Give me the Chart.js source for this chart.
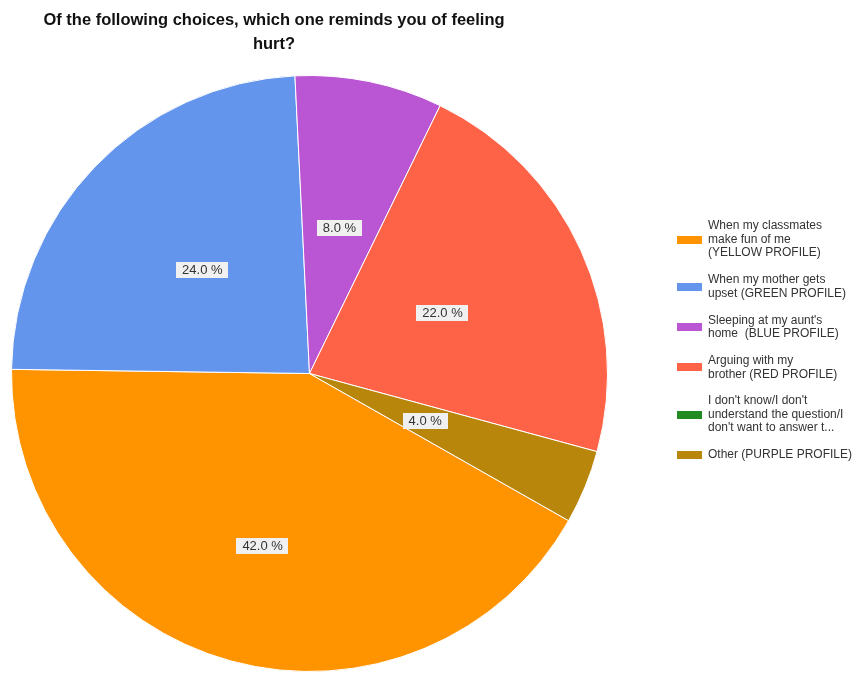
<!DOCTYPE html>
<html>
<head>
<meta charset="utf-8">
<script src="https://cdn.jsdelivr.net/npm/chart.js@4.4.0/dist/chart.umd.min.js"></script>
<style>
  html, body { margin: 0; padding: 0; background: #fff; overflow: hidden; }
  #wrap { position: relative; width: 867px; height: 675px; }
</style>
</head>
<body>
<div id="wrap"><canvas id="pie"></canvas></div>
<script>
const titleLines = ['Of the following choices, which one reminds you of feeling', 'hurt?'];

// legend text, already wrapped the way it is shown
const categories = [
  ['When my classmates', 'make fun of me', '(YELLOW PROFILE)'],
  ['When my mother gets', 'upset (GREEN PROFILE)'],
  ['Sleeping at my aunt\'s', 'home  (BLUE PROFILE)'],
  ['Arguing with my', 'brother (RED PROFILE)'],
  ['I don\'t know/I don\'t', 'understand the question/I', 'don\'t want to answer t...'],
  ['Other (PURPLE PROFILE)']
];
const shares = [42, 24, 8, 22, 0, 4];
const sliceColors = ['#FF9400', '#6495ED', '#BA55D3', '#FF6347', '#228B22', '#B8860B'];

// how far out (fraction of the radius) each percentage tag sits
const labelRadius = [0.6, 0.5, 0.5, 0.49, 0.5, 0.42];

const FONT = '"Liberation Sans", Arial, sans-serif';

const titlePlugin = {
  id: 'pieTitle',
  afterDraw(chart) {
    const ctx = chart.ctx;
    ctx.save();
    ctx.font = 'bold 16.5px ' + FONT;
    ctx.fillStyle = '#111';
    ctx.textAlign = 'center';
    ctx.textBaseline = 'alphabetic';
    titleLines.forEach((line, i) => ctx.fillText(line, 274, 25 + i * 24));
    ctx.restore();
  }
};

const sliceLabels = {
  id: 'sliceLabels',
  afterDatasetsDraw(chart) {
    const ctx = chart.ctx;
    const meta = chart.getDatasetMeta(0);
    ctx.save();
    ctx.font = '13px ' + FONT;
    ctx.textAlign = 'center';
    ctx.textBaseline = 'middle';
    meta.data.forEach((arc, i) => {
      const v = shares[i];
      if (!v) return;
      const p = arc.getProps(['x', 'y', 'startAngle', 'endAngle', 'outerRadius'], true);
      const mid = (p.startAngle + p.endAngle) / 2;
      const r = p.outerRadius * labelRadius[i];
      const x = p.x + Math.cos(mid) * r;
      const y = p.y + Math.sin(mid) * r;
      const txt = v.toFixed(1) + ' %';
      const w = ctx.measureText(txt).width + 12;
      ctx.fillStyle = '#F0F0F0';
      ctx.fillRect(Math.round(x - w / 2), Math.round(y - 8), Math.round(w), 16);
      ctx.fillStyle = '#333';
      ctx.fillText(txt, x, y + 0.5);
    });
    ctx.restore();
  }
};

const sideLegend = {
  id: 'sideLegend',
  afterDraw(chart) {
    const ctx = chart.ctx;
    const lineH = 13.5, gap = 13.4;
    let y = 226;
    ctx.save();
    ctx.font = '12px ' + FONT;
    ctx.textAlign = 'left';
    ctx.textBaseline = 'middle';
    categories.forEach((lines, i) => {
      const boxY = y + (lines.length - 1) * lineH / 2;
      ctx.fillStyle = sliceColors[i];
      ctx.fillRect(677, Math.round(boxY - 4), 25, 8);
      ctx.fillStyle = '#333';
      lines.forEach((t, k) => ctx.fillText(t, 708, y + k * lineH));
      y += lines.length * lineH + gap;
    });
    ctx.restore();
  }
};

new Chart(document.getElementById('pie'), {
  type: 'pie',
  data: {
    labels: categories.map(l => l.join(' ')),
    datasets: [{
      data: shares,
      backgroundColor: sliceColors,
      borderColor: '#fff',
      borderWidth: 1
    }]
  },
  options: {
    responsive: true,
    maintainAspectRatio: false,
    animation: false,
    events: [],
    rotation: 119.6,
    layout: { padding: { top: 75, bottom: 3, left: 11, right: 259 } },
    plugins: {
      legend: { display: false },
      title: { display: false },
      tooltip: { enabled: false }
    }
  },
  plugins: [titlePlugin, sliceLabels, sideLegend]
});
</script>
</body>
</html>
